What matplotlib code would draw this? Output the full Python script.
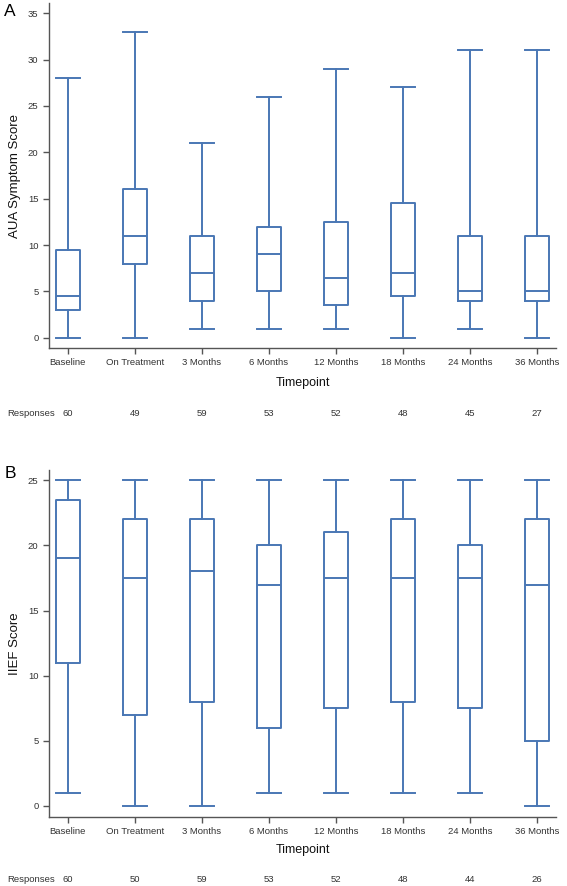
import matplotlib
matplotlib.use('Agg')
import matplotlib.pyplot as plt
import matplotlib.transforms as mtrans

plt.rcParams['font.family'] = ['Liberation Sans', 'DejaVu Sans']

timepoints = ['Baseline', 'On Treatment', '3 Months', '6 Months',
              '12 Months', '18 Months', '24 Months', '36 Months']

# panel A - AUA symptom score
aua_min = [0, 0, 1, 1, 1, 0, 1, 0]
aua_q1 = [3, 8, 4, 5, 3.5, 4.5, 4, 4]
aua_med = [4.5, 11, 7, 9, 6.5, 7, 5, 5]
aua_q3 = [9.5, 16, 11, 12, 12.5, 14.5, 11, 11]
aua_max = [28, 33, 21, 26, 29, 27, 31, 31]
aua_n = [60, 49, 59, 53, 52, 48, 45, 27]

# panel B - IIEF score
iief_min = [1, 0, 0, 1, 1, 1, 1, 0]
iief_q1 = [11, 7, 8, 6, 7.5, 8, 7.5, 5]
iief_med = [19, 17.5, 18, 17, 17.5, 17.5, 17.5, 17]
iief_q3 = [23.5, 22, 22, 20, 21, 22, 20, 22]
iief_max = [25, 25, 25, 25, 25, 25, 25, 25]
iief_n = [60, 50, 59, 53, 52, 48, 44, 26]

blue = '#4a77b4'
grey = '#555555'
fs = 6.8

fig = plt.figure(figsize=(5.67, 8.86), dpi=100)
axA = fig.add_axes([0.0864, 0.6072, 0.8942, 0.3894])
axB = fig.add_axes([0.0864, 0.0782, 0.8942, 0.3913])


def draw(ax, mins, q1, med, q3, maxs, n, ylabel, yticks, ylim, xlab_y, resp_y, letter, letter_y):
    stats = []
    for i in range(len(timepoints)):
        stats.append(dict(whislo=mins[i], q1=q1[i], med=med[i], q3=q3[i],
                          whishi=maxs[i], fliers=[], label=timepoints[i]))
    lp = dict(color=blue, linewidth=1.4)
    ax.bxp(stats, positions=range(len(timepoints)), widths=0.36,
           showfliers=False, boxprops=lp, whiskerprops=lp, capprops=lp,
           medianprops=lp, capwidths=0.36)
    ax.set_xlim(-0.28, 7.28)
    ax.set_ylim(*ylim)
    ax.set_yticks(yticks)
    ax.set_xticks(range(len(timepoints)))
    ax.set_xticklabels(timepoints)
    for s in ['top', 'right']:
        ax.spines[s].set_visible(False)
    for s in ['left', 'bottom']:
        ax.spines[s].set_color(grey)
        ax.spines[s].set_linewidth(1.0)
    ax.tick_params(labelsize=fs, colors=grey, labelcolor='#333333',
                   length=4.5, width=1.0, pad=3)
    ax.set_ylabel(ylabel, fontsize=9.5, color='#111111', va='center')
    ax.yaxis.set_label_coords(-0.067, 0.5)
    ax.set_xlabel('Timepoint', fontsize=9, color='#111111', va='center')
    ax.xaxis.set_label_coords(0.5, xlab_y)
    trans = mtrans.blended_transform_factory(ax.transData, fig.transFigure)
    fig.text(0.012, resp_y, 'Responses', fontsize=fs, color='#333333', va='center', ha='left')
    for i, v in enumerate(n):
        ax.text(i, resp_y, str(v), transform=trans, fontsize=fs,
                color='#333333', ha='center', va='center')
    fig.text(0.018, letter_y, letter, fontsize=12.5, ha='center', va='center')


draw(axA, aua_min, aua_q1, aua_med, aua_q3, aua_max, aua_n,
     'AUA Symptom Score', range(0, 36, 5), (-1.1, 36.1), -0.101, 1 - 413 / 886, 'A', 1 - 12 / 886)
draw(axB, iief_min, iief_q1, iief_med, iief_q3, iief_max, iief_n,
     'IIEF Score', range(0, 26, 5), (-0.85, 25.8), -0.096, 1 - 880 / 886, 'B', 1 - 473 / 886)

fig.savefig('out.png', dpi=100)
